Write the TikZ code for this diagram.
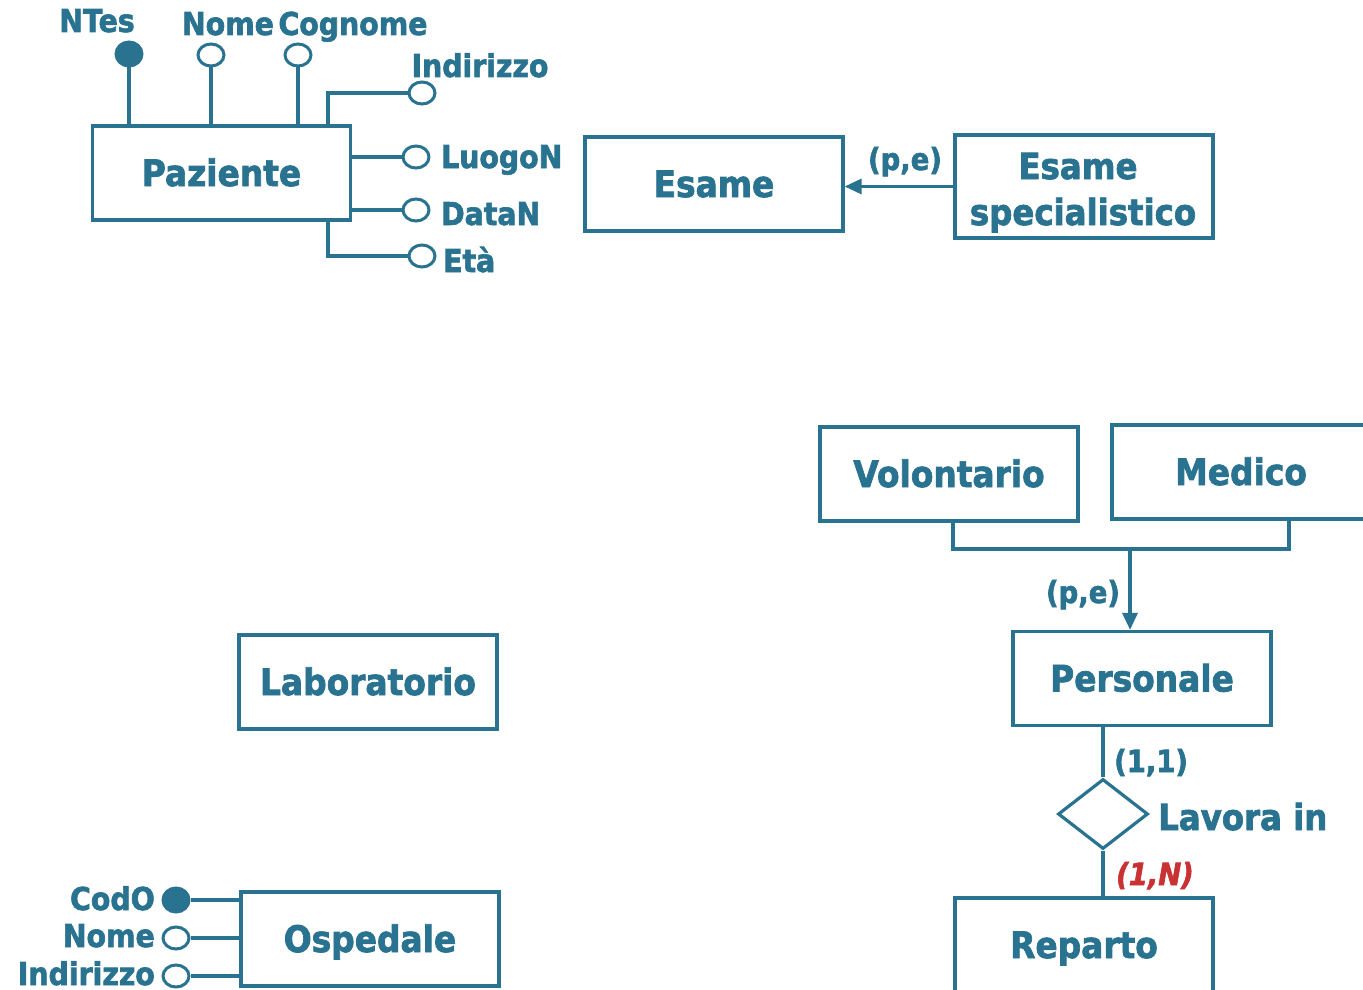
\documentclass[tikz,border=0pt]{standalone}
\usepackage{fontspec}
\setmainfont{DejaVu Sans}[FakeStretch=0.9,FakeBold=2]
\usetikzlibrary{shapes.geometric,arrows.meta}
\definecolor{er}{RGB}{41,115,145}
\definecolor{erred}{RGB}{200,50,50}
\tikzset{
  ent/.style={draw=er, line width=3.2pt, minimum width=258pt, minimum height=94pt,
    inner sep=0pt, text=er, font=\fontsize{36.5}{42}\selectfont\bfseries,
    text height=26pt, text depth=0pt},
  entbox/.style={draw=er, line width=3.2pt, inner sep=0pt},
  attr/.style={draw=er, line width=3pt, ellipse, minimum width=26pt, minimum height=22pt, inner sep=0pt, fill=white},
  key/.style={attr, fill=er, minimum height=24pt},
  lab/.style={text=er, font=\fontsize{31.5}{36}\selectfont\bfseries, inner sep=0pt},
  card/.style={text=er, font=\fontsize{30.5}{36}\selectfont\bfseries, inner sep=0pt},
  conn/.style={draw=er, line width=3.2pt},
  isa/.style={conn, -{Triangle[length=17pt 0 0,width=15pt 0 0]}},
  rel/.style={draw=er, line width=3.2pt, diamond, minimum width=90pt, minimum height=70pt, inner sep=0pt},
}
\begin{document}
\begin{tikzpicture}[x=1pt,y=-1pt]
\useasboundingbox (0,0) rectangle (1363,990);
\clip (0,0) rectangle (1363,990);

% ---------- Paziente ----------
\node[ent] (paz) at (221.5,173) {Paziente};
\node[key] (ntes) at (129,54) {};
\node[attr] (pnome) at (211,55) {};
\node[attr] (pcogn) at (298,55) {};
\node[attr] (pind) at (422,93) {};
\node[attr] (pluogo) at (416,157) {};
\node[attr] (pdata) at (416,210) {};
\node[attr] (peta) at (422,256) {};
\coordinate (pindc) at (328,126);
\coordinate (petac) at (328,220);
\draw[conn] (ntes.south) -- (ntes.south |- paz.north);
\draw[conn] (pnome.south) -- (pnome.south |- paz.north);
\draw[conn] (pcogn.south) -- (pcogn.south |- paz.north);
\draw[conn] (pind.west) -| (pindc);
\draw[conn] (pluogo.west) -- (pluogo.west -| paz.east);
\draw[conn] (pdata.west) -- (pdata.west -| paz.east);
\draw[conn] (peta.west) -| (petac);
\node[lab, anchor=base] (tntes) at (97,32) {NTes};
\node[lab, anchor=base] (tpnome) at (228,35) {Nome};
\node[lab, anchor=base] (tpcogn) at (353,35) {Cognome};
\node[lab, anchor=base] (tpind) at (480,77) {Indirizzo};
\node[lab, anchor=base west] (tpluogo) at (441,168) {LuogoN};
\node[lab, anchor=base west] (tpdata) at (441,225) {DataN};
\node[lab, anchor=base west] (tpeta) at (443,272) {Età};

% ---------- Esame ----------
\node[ent] (esame) at (714,184) {Esame};
\node[entbox, minimum width=258pt, minimum height=103pt] (esp) at (1084,186.5) {};
\node[text=er, font=\fontsize{36}{42}\selectfont\bfseries, inner sep=0pt, anchor=base] (esp1) at (1078,179) {Esame};
\node[text=er, font=\fontsize{36}{42}\selectfont\bfseries, inner sep=0pt, anchor=base] (esp2) at (1083,225) {specialistico};
\draw[isa] (esp.west) -- (esp.west -| esame.east);
\node[card, anchor=base] (pe1) at (905,170) {(p,e)};

% ---------- Personale ----------
\node[ent] (vol) at (949,474) {Volontario};
\node[ent] (med) at (1241,472) {Medico};
\node[ent] (pers) at (1142,678.5) {Personale};
\coordinate (gl) at (953,549);
\coordinate (gr) at (1289,549);
\coordinate (gm) at (1130,549);
\draw[conn] (vol.south -| gl) -- (gl) -- (gr) -- (med.south -| gr);
\draw[isa] (gm) -- (gm |- pers.north);
\node[card, anchor=base] (pe2) at (1083,603) {(p,e)};

\node[rel] (lav) at (1103,814) {};
\node[ent] (rep) at (1084,945) {Reparto};
\draw[conn] (lav.north |- pers.south) -- (lav.north);
\draw[conn] (lav.south) -- (lav.south |- rep.north);
\node[card, anchor=base west] (c11) at (1114,772) {(1,1)};
\node[text=er, font=\fontsize{36}{42}\selectfont\bfseries, inner sep=0pt, anchor=base west] (tlav) at (1158,830) {Lavora in};
\node[card, text=erred, font=\fontsize{30.5}{36}\selectfont\bfseries\itshape, anchor=base west] (c1n) at (1116,885) {(1,N)};

% ---------- Laboratorio ----------
\node[ent] (lab) at (368,682) {Laboratorio};

% ---------- Ospedale ----------
\node[ent] (osp) at (370,939) {Ospedale};
\node[key] (codo) at (176,900) {};
\node[attr] (onome) at (176,938) {};
\node[attr] (oind) at (176,976) {};
\draw[conn] (codo.east) -- (codo.east -| osp.west);
\draw[conn] (onome.east) -- (onome.east -| osp.west);
\draw[conn] (oind.east) -- (oind.east -| osp.west);
\node[lab, anchor=base east] (tcodo) at (155,910) {CodO};
\node[lab, anchor=base east] (tonome) at (155,947) {Nome};
\node[lab, anchor=base east] (toind) at (155,985) {Indirizzo};
\end{tikzpicture}
\end{document}
